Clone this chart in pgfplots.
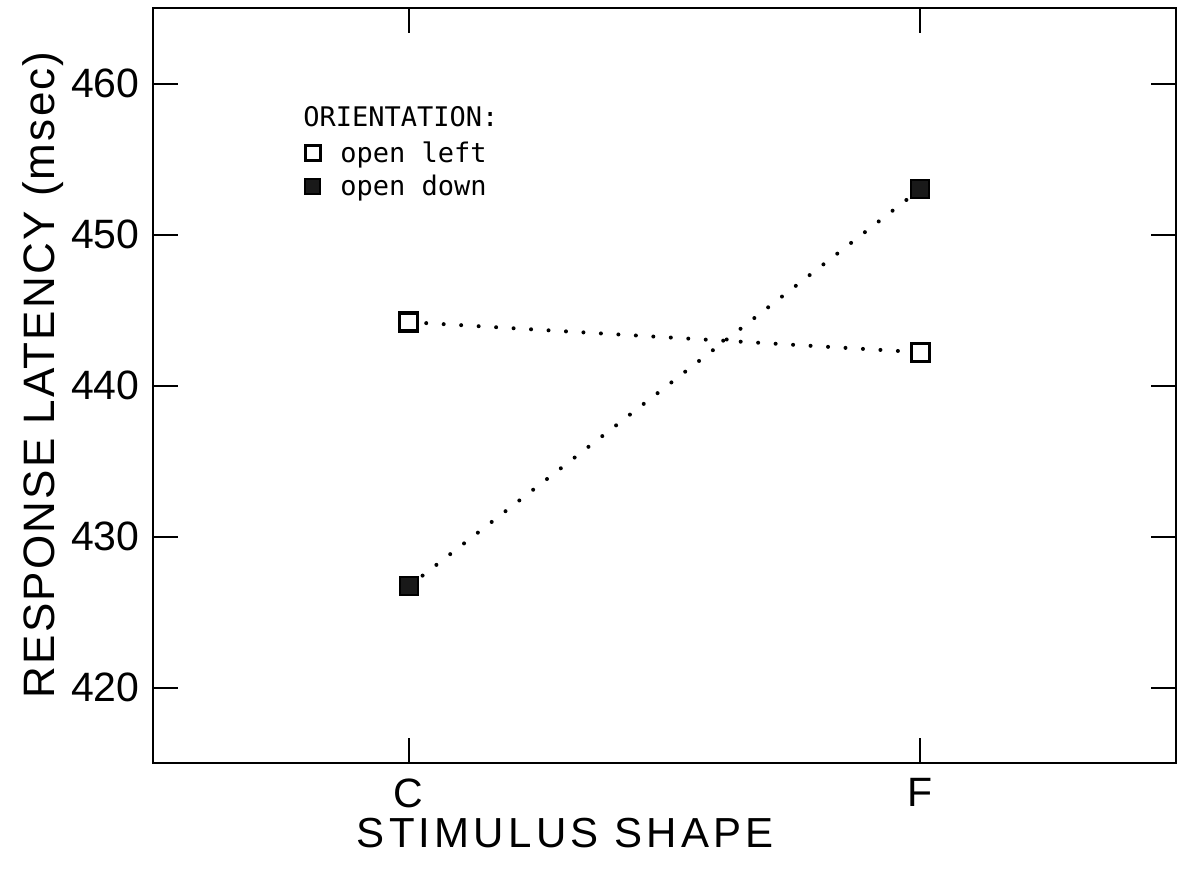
\documentclass[border=0pt]{standalone}
\usepackage{fontspec}
\setmainfont{Liberation Sans}
\newfontfamily\legfont{DejaVu Sans Mono}
\usepackage{pgfplots}
\pgfplotsset{compat=1.18}

\begin{document}
\begin{tikzpicture}
\useasboundingbox (-76.5pt,-55.5pt) rectangle (512pt,381.5pt);
\begin{axis}[
  at={(0pt,0pt)}, anchor=south west,
  width=511.5pt, height=377.5pt, scale only axis,
  xmin=-0.5, xmax=1.5, ymin=415, ymax=465,
  xtick={0,1}, xticklabels={C,F},
  ytick={420,430,440,450,460},
  tick align=inside,
  major tick length=12.5pt,
  axis line style={line width=1.4pt},
  every tick/.style={black, line width=1pt},
  /pgf/number format/assume math mode=true,
  tick label style={font=\fontsize{20.5}{24}\selectfont, inner sep=0pt},
  yticklabel style={xshift=-6.5pt},
  xticklabel style={yshift=-7.5pt},
  xlabel={STIMULUS SHAPE},
  ylabel={RESPONSE LATENCY (msec)},
  xlabel style={at={(axis description cs:0.403,-0.0728)}, anchor=north, inner sep=0pt,
    font=\fontsize{21}{25}\selectfont\addfontfeature{LetterSpace=10}},
  ylabel style={at={(axis description cs:-0.0958,0.514)}, anchor=base, inner sep=0pt,
    font=\fontsize{22}{26}\selectfont\addfontfeature{LetterSpace=5}},
  legend style={at={(axis description cs:0.1486,0.8239)}, anchor=north west, draw=none, fill=none, inner sep=0pt,
    font=\legfont\fontsize{13.5}{16}\selectfont, row sep=5pt,
    nodes={inner sep=0pt},
    /tikz/every odd column/.append style={column sep=10pt}},
  legend cell align=left,
  legend image code/.code={\draw[#1] plot coordinates {(0pt,0pt)};},
]
% series connecting lines (dotted)
\addplot[forget plot, black, line width=2pt, line cap=round, dash pattern=on 0pt off 8.75pt,
  mark=square*, mark size=4.5pt, mark options={solid, fill=white, line width=1.6pt}]
  coordinates {(0,444.2) (1,442.2)};
\addplot[forget plot, black, line width=2pt, line cap=round, dash pattern=on 0pt off 8.75pt,
  mark=square*, mark size=4.5pt, mark options={solid, fill=black!90, line width=1pt}]
  coordinates {(0,426.7) (1,453.0)};
% legend entries
\addlegendimage{only marks, mark=square*, mark size=3.75pt, mark options={solid, fill=white, line width=1.2pt}}
\addlegendentry{open left}
\addlegendimage{only marks, mark=square*, mark size=3.75pt, mark options={solid, fill=black!90, line width=1pt}}
\addlegendentry{open down}
\node[anchor=north west, inner sep=0pt, font=\legfont\fontsize{13.5}{16}\selectfont]
  at (rel axis cs:0.1466,0.8702) {ORIENTATION:};
\end{axis}
\end{tikzpicture}
\end{document}
